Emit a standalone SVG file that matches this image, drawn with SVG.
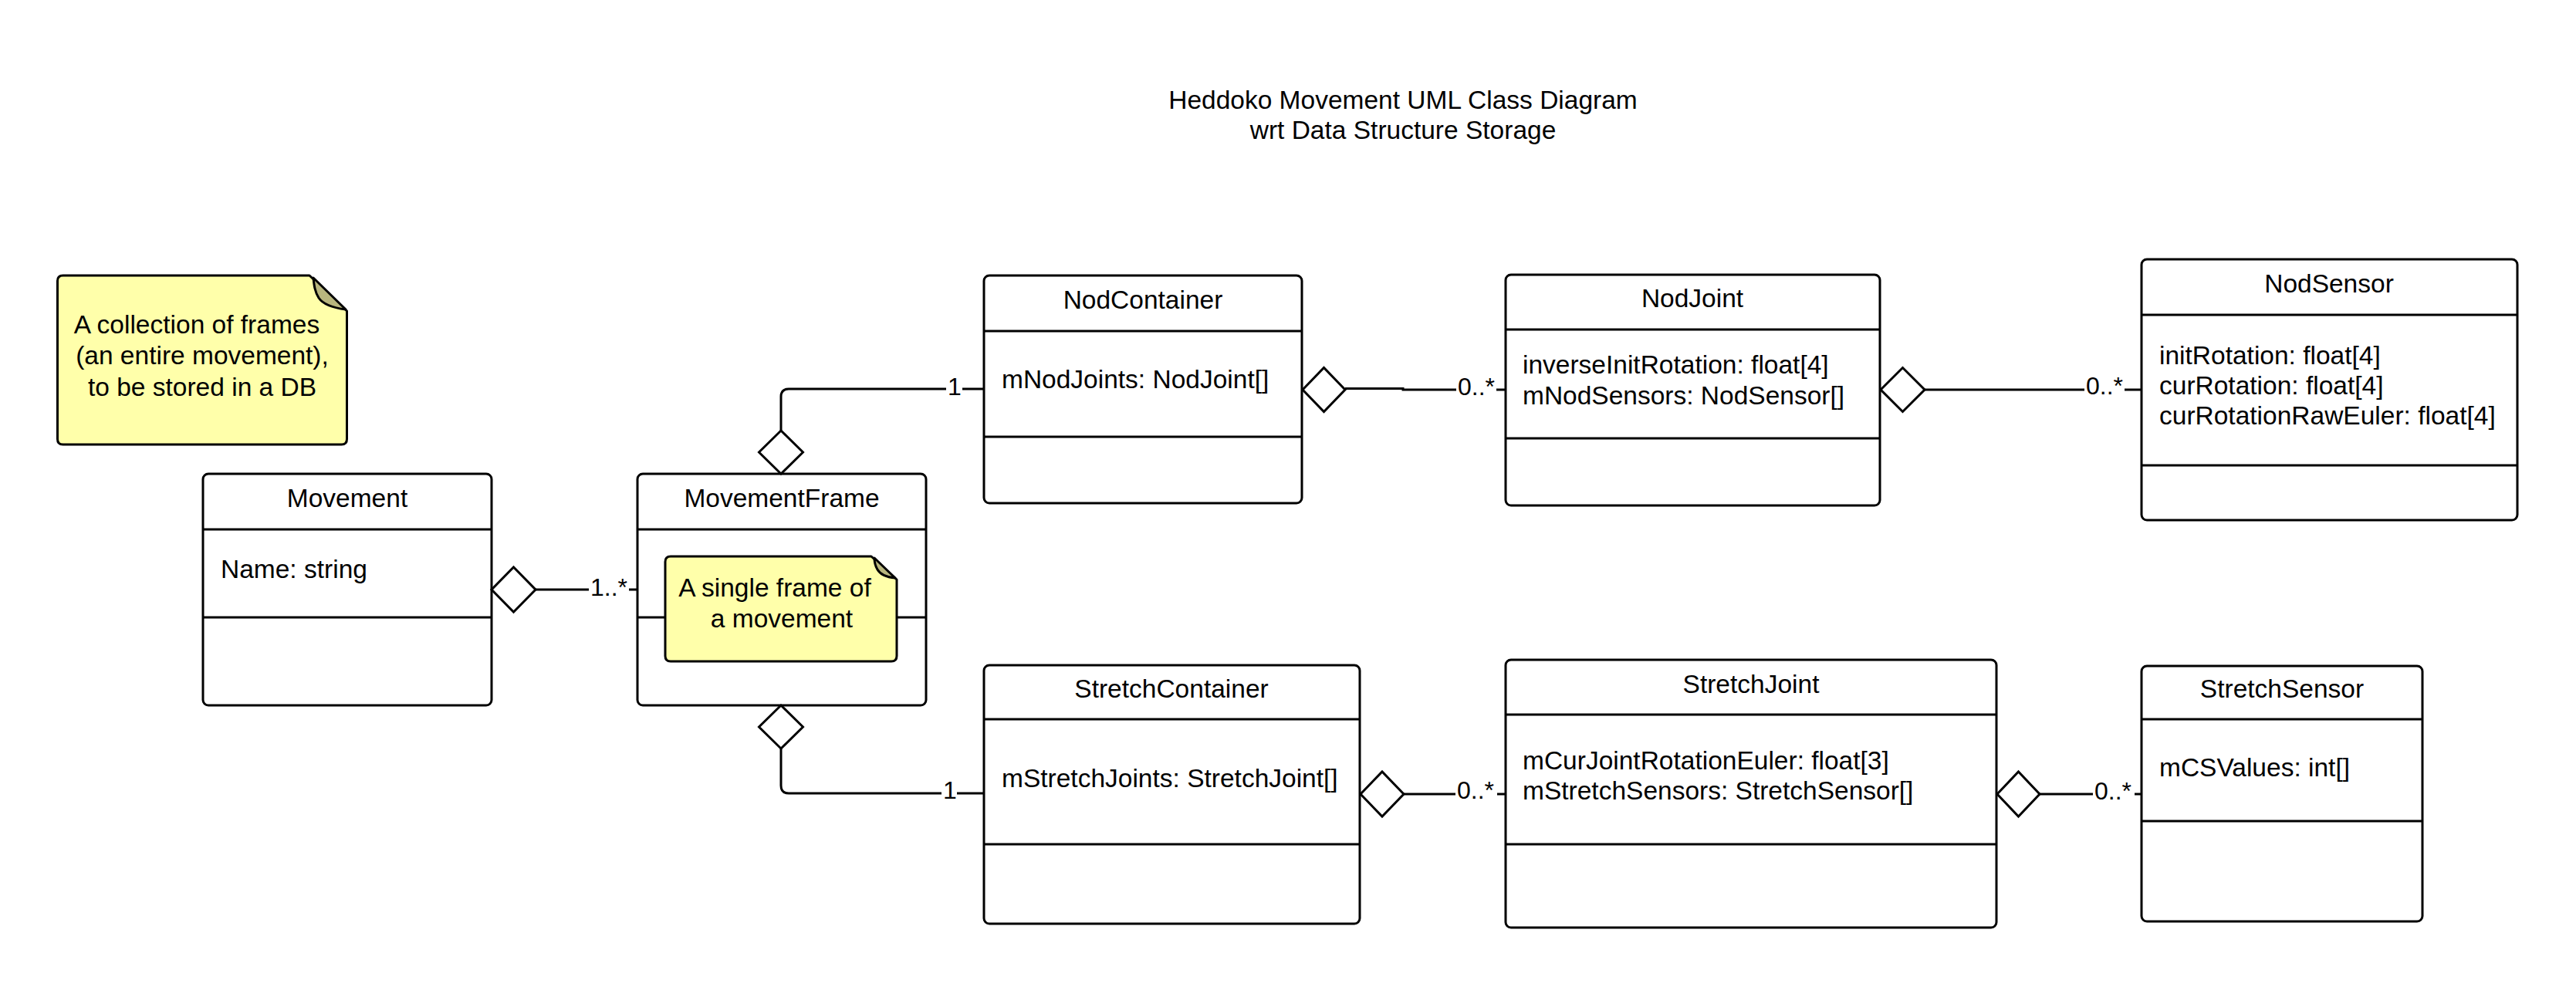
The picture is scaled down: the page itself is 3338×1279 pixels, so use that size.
<svg xmlns="http://www.w3.org/2000/svg" width="3338" height="1279" viewBox="0 0 3338 1279">
<style>
text{font-family:"Liberation Sans",Arial,sans-serif;font-size:33.5px;fill:#000}
.c{text-anchor:middle}
.box{fill:#fff;stroke:#000;stroke-width:3}
.div{stroke:#000;stroke-width:3;fill:none}
.note{fill:#ffffaa;stroke:#000;stroke-width:3;stroke-linejoin:round}
.fold{fill:#b8b67e;stroke:#000;stroke-width:3;stroke-linejoin:round}
.ln{fill:none;stroke:#000;stroke-width:3}
.dia{fill:#fff;stroke:#000;stroke-width:3;stroke-linejoin:miter}
</style>
<rect width="3338" height="1279" fill="#fff"/>
<g id="title">
<text class="c" x="1818" y="141">Heddoko Movement UML Class Diagram</text>
<text class="c" x="1818" y="180">wrt Data Structure Storage</text>
</g>
<g id="note-collection">
<path class="note" d="M81.5,357 H401 L449.5,403 V569 Q449.5,576 442.5,576 H81.5 Q74.5,576 74.5,569 V364 Q74.5,357 81.5,357 Z"/>
<path class="fold" d="M406,360 L448,401 C432,399 419,395 413,386 C408,378 407,370 406,360 Z"/>
<text class="c" x="255" y="432">A collection of frames</text>
<text class="c" x="262" y="472">(an entire movement),</text>
<text class="c" x="262" y="513">to be stored in a DB</text>
</g>
<g id="Movement">
<rect class="box" x="263" y="614" width="374" height="300" rx="7"/>
<line class="div" x1="263" y1="686" x2="637" y2="686"/>
<line class="div" x1="263" y1="800" x2="637" y2="800"/>
<text class="c" x="450" y="657">Movement</text>
<text x="286" y="749">Name: string</text>
</g>
<g id="MovementFrame">
<rect class="box" x="826" y="614" width="374" height="300" rx="7"/>
<line class="div" x1="826" y1="686" x2="1200" y2="686"/>
<line class="div" x1="826" y1="800" x2="862" y2="800"/>
<line class="div" x1="1162" y1="800" x2="1200" y2="800"/>
<text class="c" x="1013" y="657">MovementFrame</text>
</g>
<g id="note-frame">
<path class="note" d="M869,721 H1129 L1162,751 V850 Q1162,857 1155,857 H869 Q862,857 862,850 V728 Q862,721 869,721 Z"/>
<path class="fold" d="M1133,723 L1160,749 C1149,748 1141,745 1137,738 C1134,733 1133,729 1133,723 Z"/>
<text class="c" x="1004" y="773">A single frame of</text>
<text class="c" x="1013" y="813">a movement</text>
</g>
<g id="NodContainer">
<rect class="box" x="1275" y="357" width="412" height="295" rx="7"/>
<line class="div" x1="1275" y1="429" x2="1687" y2="429"/>
<line class="div" x1="1275" y1="566" x2="1687" y2="566"/>
<text class="c" x="1481" y="400">NodContainer</text>
<text x="1298" y="503">mNodJoints: NodJoint[]</text>
</g>
<g id="NodJoint">
<rect class="box" x="1951" y="356" width="485" height="299" rx="7"/>
<line class="div" x1="1951" y1="427" x2="2436" y2="427"/>
<line class="div" x1="1951" y1="568" x2="2436" y2="568"/>
<text class="c" x="2193" y="398">NodJoint</text>
<text x="1973" y="484">inverseInitRotation: float[4]</text>
<text x="1973" y="524">mNodSensors: NodSensor[]</text>
</g>
<g id="NodSensor">
<rect class="box" x="2775" y="336" width="487" height="338" rx="7"/>
<line class="div" x1="2775" y1="408" x2="3262" y2="408"/>
<line class="div" x1="2775" y1="603" x2="3262" y2="603"/>
<text class="c" x="3018" y="379">NodSensor</text>
<text x="2798" y="472">initRotation: float[4]</text>
<text x="2798" y="511">curRotation: float[4]</text>
<text x="2798" y="550">curRotationRawEuler: float[4]</text>
</g>
<g id="StretchContainer">
<rect class="box" x="1275" y="862" width="487" height="335" rx="7"/>
<line class="div" x1="1275" y1="932" x2="1762" y2="932"/>
<line class="div" x1="1275" y1="1094" x2="1762" y2="1094"/>
<text class="c" x="1518" y="904">StretchContainer</text>
<text x="1298" y="1020">mStretchJoints: StretchJoint[]</text>
</g>
<g id="StretchJoint">
<rect class="box" x="1951" y="855" width="636" height="347" rx="7"/>
<line class="div" x1="1951" y1="926" x2="2587" y2="926"/>
<line class="div" x1="1951" y1="1094" x2="2587" y2="1094"/>
<text class="c" x="2269" y="898">StretchJoint</text>
<text x="1973" y="997">mCurJointRotationEuler: float[3]</text>
<text x="1973" y="1036">mStretchSensors: StretchSensor[]</text>
</g>
<g id="StretchSensor">
<rect class="box" x="2775" y="863" width="364" height="331" rx="7"/>
<line class="div" x1="2775" y1="932" x2="3139" y2="932"/>
<line class="div" x1="2775" y1="1064" x2="3139" y2="1064"/>
<text class="c" x="2957" y="904">StretchSensor</text>
<text x="2798" y="1006">mCSValues: int[]</text>
</g>
<g id="connectors">
<path class="ln" d="M694,764 H763 M815,764 H826"/>
<path class="dia" d="M637,764 L665.5,735 L694,764 L665.5,793 Z"/>
<text x="765" y="772" style="font-size:32px">1..*</text>
<path class="ln" d="M1012,558 V514 Q1012,504 1022,504 H1226 M1247,504 H1275"/>
<path class="dia" d="M1012,614 L983.5,586 L1012,558 L1040.5,586 Z"/>
<text x="1228" y="512" style="font-size:32px">1</text>
<path class="ln" d="M1012,970 V1018 Q1012,1028 1022,1028 H1220 M1240,1028 H1275"/>
<path class="dia" d="M1012,914 L983.5,942 L1012,970 L1040.5,942 Z"/>
<text x="1222" y="1035" style="font-size:32px">1</text>
<path class="ln" d="M1743,503.5 H1818 V505 H1887 M1939,505 H1951"/>
<path class="dia" d="M1688,505 L1715.5,476.5 L1743,505 L1715.5,533.5 Z"/>
<text x="1889" y="512" style="font-size:32px">0..*</text>
<path class="ln" d="M2494,505 H2701 M2753,505 H2775"/>
<path class="dia" d="M2437,505 L2465.5,476.5 L2494,505 L2465.5,533.5 Z"/>
<text x="2703" y="511" style="font-size:32px">0..*</text>
<path class="ln" d="M1819,1029 H1886 M1940,1029 H1951"/>
<path class="dia" d="M1763,1029 L1791,1000 L1819,1029 L1791,1058 Z"/>
<text x="1888" y="1035" style="font-size:32px">0..*</text>
<path class="ln" d="M2643,1029 H2712 M2766,1029 H2775"/>
<path class="dia" d="M2588,1029 L2615.5,1000 L2643,1029 L2615.5,1058 Z"/>
<text x="2714" y="1036" style="font-size:32px">0..*</text>
</g>
</svg>
